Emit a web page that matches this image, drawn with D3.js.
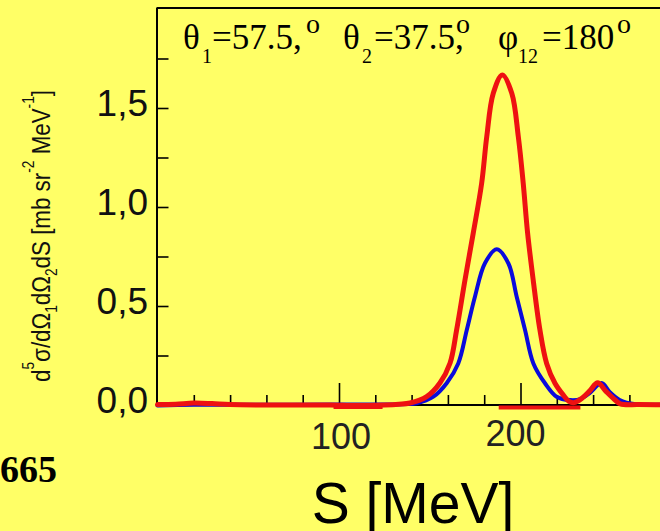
<!DOCTYPE html>
<html><head><meta charset="utf-8">
<script src="https://cdn.jsdelivr.net/npm/d3@7"></script>
<style>
html,body{margin:0;padding:0;background:#FFFF66;}
svg{display:block;}
</style></head>
<body>
<svg id="chart" width="660" height="531"></svg>
<script>
// ---- data ----
const xMinorTicks = [20,40,60,80,120,140,160,180,220,240,260,280];
const xMajorTicks = [100,200];
const xTickLabels = ["100","200"];
const yMinorTicks = [0.25,0.5,0.75,1.0,1.25,1.5,1.75];
const yTickValues = [0,0.5,1.0,1.5];
const redSeries = [
  [0,0.002],[10,0.004],[20,0.01],[30,0.007],[40,0.002],[60,0.0],[80,0.0],[95,0.0],
  [110,-0.003],[125,0.0],[133,0.004],[139.1,0.01],[148.3,0.042],[155.6,0.111],
  [161.2,0.212],[164.8,0.379],[169.4,0.631],[174.0,0.87],[178.6,1.12],[181.4,1.355],
  [185.0,1.574],[190.0,1.667],[195.2,1.574],[198.8,1.355],[201.5,1.12],[203.9,0.87],
  [207.0,0.631],[210.7,0.379],[214.4,0.21],[219.0,0.11],[223.6,0.05],[226.5,0.02],
  [229.5,0.012],[234,0.035],[238,0.07],[242.5,0.112],[247,0.07],[251,0.035],[255,0.006],
  [265,0.002],[290,0.002]
];
const redFloorA = [[97,-0.01],[124,-0.01]];
const redFloorB = [[188,-0.013],[233,-0.013]];
const blueSeries = [
  [0,-0.002],[20,0.001],[60,0.001],[100,0.002],[125,0.003],[135,0.004],[142.8,0.009],
  [152.0,0.042],[159.3,0.11],[165.7,0.21],[170.4,0.379],[174.9,0.547],[180.4,0.716],
  [186.9,0.786],[193.3,0.716],[197.9,0.547],[202.5,0.379],[207.1,0.21],[213.5,0.11],
  [219.9,0.042],[227.3,0.025],[233,0.03],[238.1,0.06],[244.7,0.111],[249.1,0.066],
  [254.6,0.025],[258.4,0.012],[266,0.003],[290,0.002]
];
const yTitle = "d5σ/dΩ1dΩ2dS [mb sr-2 MeV-1]";
const xTitle = "S [MeV]";
const pageNumber = "665";

// ---- layout ----
const svg = d3.select("#chart");
const x0 = 157.5, pxPerMeV = 1.815;
const x = d3.scaleLinear().domain([0,300]).range([x0, x0 + 300*pxPerMeV]);
const y = d3.scaleLinear().domain([0,2]).range([405, 9]);
const fmt = d3.formatLocale({decimal:",",thousands:".",grouping:[3],currency:["",""]}).format(".1f");
const sans = "'Liberation Sans', Arial, sans-serif";
const serif = "'Liberation Serif', 'Times New Roman', serif";

svg.append("rect").attr("width",660).attr("height",531).attr("fill","#FFFF66");

const line = d3.line().x(d=>x(d[0])).y(d=>y(d[1])).curve(d3.curveCatmullRom.alpha(0.5));

// axes
const axG = svg.append("g");
axG.append("g").attr("transform",`translate(0,${y(0)})`)
  .call(d3.axisBottom(x).tickValues(xMinorTicks).tickSize(-10).tickFormat(""))
  .call(s=>s.select(".domain").remove())
  .call(s=>s.selectAll("line").attr("stroke","#000").attr("stroke-width",1.6));
axG.append("g").attr("transform",`translate(0,${y(0)})`)
  .call(d3.axisBottom(x).tickValues(xMajorTicks).tickSize(-22).tickFormat(""))
  .call(s=>s.select(".domain").remove())
  .call(s=>s.selectAll("line").attr("stroke","#000").attr("stroke-width",1.6));
axG.append("g").attr("transform",`translate(${x0},0)`)
  .call(d3.axisLeft(y).tickValues(yMinorTicks).tickSize(-11).tickFormat(""))
  .call(s=>s.select(".domain").remove())
  .call(s=>s.selectAll("line").attr("stroke","#000").attr("stroke-width",1.6));
axG.append("line").attr("x1",x0-0.5).attr("x2",x0-0.5).attr("y1",y(2)-1).attr("y2",y(0)+1)
  .attr("stroke","#000").attr("stroke-width",2);
axG.append("line").attr("x1",x0-1).attr("x2",660).attr("y1",y(0)).attr("y2",y(0))
  .attr("stroke","#000").attr("stroke-width",2);
axG.append("line").attr("x1",x0-1).attr("x2",660).attr("y1",y(2)-1).attr("y2",y(2)-1)
  .attr("stroke","#000").attr("stroke-width",2);

// curves
const g = svg.append("g");
g.append("path").datum(blueSeries).attr("d",line).attr("fill","none")
  .attr("stroke","#0A0ADC").attr("stroke-width",4).attr("stroke-linejoin","round").attr("stroke-linecap","round");
g.append("path").datum(redSeries).attr("d",line).attr("fill","none")
  .attr("stroke","#EE1111").attr("stroke-width",5).attr("stroke-linejoin","round").attr("stroke-linecap","round");
[redFloorA, redFloorB].forEach(seg=>{
  g.append("path").datum(seg).attr("d",d3.line().x(d=>x(d[0])).y(d=>y(d[1])))
    .attr("fill","none").attr("stroke","#EE1111").attr("stroke-width",4);
});

// y tick labels
svg.append("g").selectAll("text").data(yTickValues).join("text")
  .attr("x",148).attr("y",d=>y(d)+8).attr("text-anchor","end")
  .attr("font-family",sans).attr("font-size",37).attr("fill","#111")
  .text(d=>fmt(d));

// x tick labels
const xNudge = [[2,449],[-5,446]];
svg.append("g").selectAll("text").data(xMajorTicks).join("text")
  .attr("x",(d,i)=>x(d)+xNudge[i][0]).attr("y",(d,i)=>xNudge[i][1]).attr("text-anchor","middle")
  .attr("font-family",sans).attr("font-size",36).attr("fill","#222")
  .text((d,i)=>xTickLabels[i]);

// x title
svg.append("text").attr("x",413).attr("y",523).attr("text-anchor","middle")
  .attr("font-family",sans).attr("font-size",57).attr("fill","#000").text(xTitle);

// y title (rotated)
const yt = svg.append("text").attr("transform","translate(50,236) rotate(-90)")
  .attr("text-anchor","middle").attr("font-family",sans).attr("font-size",26).attr("fill","#111")
  .attr("textLength",292).attr("lengthAdjust","spacingAndGlyphs");
const yParts = [["d",0],["5",1],["σ/dΩ",0],["1",-1],["dΩ",0],["2",-1],["dS [mb sr",0],["-2",1],[" MeV",0],["-1",1],["]",0]];
yParts.forEach(p=>{
  const t = yt.append("tspan").text(p[0]);
  if(p[1]!==0){ t.attr("font-size",16).attr("baseline-shift", p[1]>0 ? "16" : "-7"); }
});

// header label
const head = svg.append("g").attr("font-family",serif).attr("fill","#000");
const headParts = [
  ["θ",183,49,35],["1",202,63,20],["=57.5,",212,49,35],["o",306,33,28],
  ["θ",343,49,35],["2",362,63,20],["=37.5,",374,49,35],["o",456,33,28],
  ["φ",498,49,35],["12",518,63,20],["=180",542,49,35],["o",617,33,28]
];
head.selectAll("text").data(headParts).join("text")
  .attr("x",d=>d[1]).attr("y",d=>d[2]).attr("font-size",d=>d[3]).text(d=>d[0]);

// page number
svg.append("text").attr("x",0).attr("y",482).attr("font-family",serif).attr("font-weight","bold")
  .attr("font-size",38).attr("fill","#000").text(pageNumber);
</script>
</body></html>
